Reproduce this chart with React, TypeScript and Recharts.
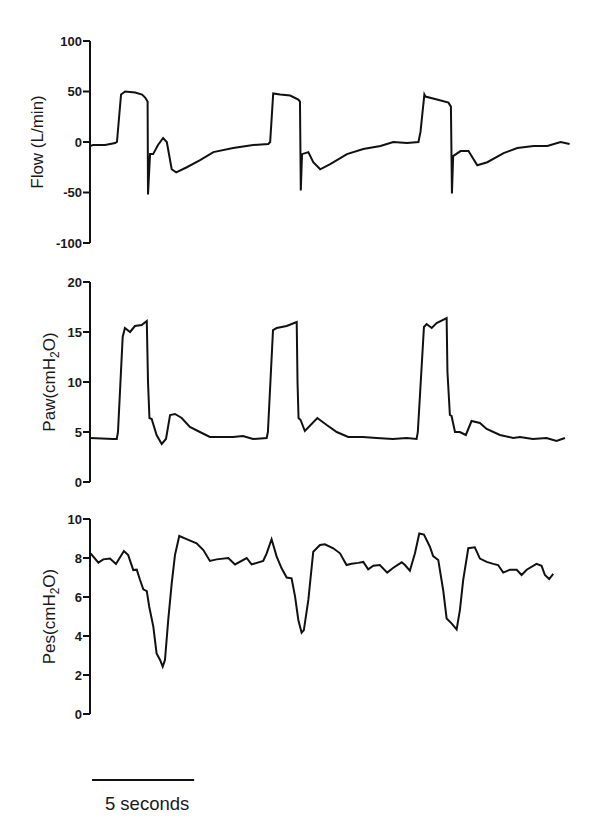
import React from "react";
import { LineChart, Line, XAxis, YAxis, ReferenceLine } from "recharts";

// ---- Data (time in seconds) ----
const flowTime = [0, 0.15, 0.74, 1.23, 1.32, 1.52, 1.72, 2.21, 2.55, 2.7, 2.82, 2.84, 2.94, 3.09, 3.33, 3.58, 3.76, 4.0, 4.22, 4.74, 5.39, 6.04, 7.01, 7.99, 8.73, 8.82, 8.97, 9.31, 9.8, 10.2, 10.28, 10.32, 10.38, 10.69, 10.93, 11.27, 11.76, 12.58, 13.38, 14.22, 14.85, 15.52, 16.08, 16.18, 16.37, 16.42, 16.99, 17.55, 17.67, 17.72, 17.78, 18.14, 18.53, 18.96, 19.45, 20.25, 20.92, 21.72, 22.39, 23.04, 23.48];
const flowValues = [-4, -3, -3, -1, 0, 47, 50, 49, 47, 44, 40, -52, -12, -12, -3, 4, 0, -27, -30, -25, -18, -10, -6, -3, -2, 0, 48, 47, 46, 42, 40, -48, -12, -10, -20, -27, -22, -12, -7, -4, 0, -1, 0, 10, 47, 45, 42, 39, 35, -51, -14, -9, -9, -23, -20, -11, -6, -4, -4, 0, -2];

const pawTime = [0, 1.13, 1.31, 1.37, 1.6, 1.71, 1.96, 2.2, 2.53, 2.78, 2.84, 2.91, 3.02, 3.26, 3.51, 3.72, 3.92, 4.16, 4.49, 4.89, 5.38, 5.87, 7.0, 7.49, 7.98, 8.65, 8.71, 8.96, 9.14, 9.63, 10.12, 10.16, 10.21, 10.31, 10.52, 11.13, 11.59, 12.08, 12.64, 13.36, 14.03, 14.83, 15.5, 15.99, 16.05, 16.35, 16.48, 16.73, 16.97, 17.46, 17.5, 17.62, 17.7, 17.87, 18.11, 18.4, 18.68, 19.09, 19.42, 20.07, 20.72, 21.05, 21.68, 22.35, 22.84, 23.25];
const pawValues = [4.4, 4.3, 4.3, 5.0, 14.5, 15.4, 15.0, 15.6, 15.7, 16.1, 10, 6.4, 6.3, 4.7, 3.8, 4.3, 6.7, 6.8, 6.4, 5.5, 5.0, 4.5, 4.5, 4.6, 4.3, 4.4, 5, 15.2, 15.4, 15.6, 16.0, 10, 6.4, 6.2, 5.1, 6.4, 5.7, 5.0, 4.5, 4.5, 4.4, 4.3, 4.4, 4.3, 5, 15.5, 15.8, 15.4, 15.9, 16.4, 11, 6.7, 6.6, 5.0, 5.0, 4.7, 6.1, 5.9, 5.3, 4.7, 4.4, 4.5, 4.3, 4.4, 4.1, 4.4];

const pesTime = [0.03, 0.41, 0.65, 0.98, 1.27, 1.66, 1.87, 2.12, 2.29, 2.45, 2.61, 2.78, 2.9, 3.1, 3.26, 3.43, 3.56, 3.67, 3.83, 4.0, 4.16, 4.37, 4.73, 5.22, 5.55, 5.87, 6.2, 6.77, 7.1, 7.67, 7.91, 8.48, 8.65, 8.89, 9.14, 9.38, 9.63, 9.87, 10.04, 10.2, 10.36, 10.47, 10.69, 10.93, 11.26, 11.5, 11.91, 12.24, 12.56, 12.81, 13.13, 13.38, 13.62, 13.87, 14.19, 14.55, 14.85, 15.26, 15.42, 15.66, 15.91, 16.12, 16.35, 16.64, 16.8, 17.05, 17.29, 17.46, 17.7, 17.95, 18.11, 18.27, 18.52, 18.84, 19.09, 19.42, 19.74, 19.98, 20.23, 20.56, 20.89, 21.13, 21.38, 21.86, 22.11, 22.27, 22.48, 22.68];
const pesValues = [8.24, 7.76, 7.93, 7.97, 7.69, 8.36, 8.15, 7.38, 7.4, 6.87, 6.39, 6.3, 5.5, 4.48, 3.11, 2.77, 2.43, 2.77, 4.82, 6.7, 8.15, 9.13, 8.97, 8.75, 8.41, 7.85, 7.93, 8.0, 7.67, 8.0, 7.67, 7.85, 8.24, 8.96, 8.07, 7.47, 7.0, 6.96, 6.02, 4.82, 4.17, 4.3, 5.85, 8.32, 8.67, 8.7, 8.5, 8.24, 7.64, 7.7, 7.75, 7.8, 7.42, 7.6, 7.64, 7.25, 7.5, 7.78, 7.64, 7.35, 8.24, 9.26, 9.2, 8.58, 8.1, 7.9, 6.36, 4.9, 4.65, 4.34, 5.33, 6.87, 8.5, 8.55, 7.97, 7.8, 7.7, 7.64, 7.25, 7.4, 7.4, 7.13, 7.4, 7.7, 7.6, 7.13, 6.92, 7.18];

const flowTicks = [-100, -50, 0, 50, 100];
const pawTicks = [0, 5, 10, 15, 20];
const pesTicks = [0, 2, 4, 6, 8, 10];

const timeDomain = [0, 23.5];
const scaleBarStart = 0.1;
const scaleBarSeconds = 5;
const scaleBarLevel = -3.38;
const scaleBarText = "5 seconds";

const toRows = (t: number[], v: number[]) => t.map((x, i) => ({ t: x, v: v[i] }));
const flowData = toRows(flowTime, flowValues);
const pawData = toRows(pawTime, pawValues);
const pesData = toRows(pesTime, pesValues);

const FONT = '"Liberation Sans", Arial, Helvetica, sans-serif';
const INK = "#111";
const W = 575;

function Title({ viewBox, baseX, main, sub, tail }: any) {
  const cy = viewBox.y + viewBox.height / 2;
  return (
    <text
      x={baseX}
      y={cy}
      transform={`rotate(-90, ${baseX}, ${cy})`}
      textAnchor="middle"
      fontFamily={FONT}
      fontSize={17}
      fill="#1a1a1a"
    >
      {main}
      {sub ? (
        <tspan fontSize={12} dy={4}>
          {sub}
        </tspan>
      ) : null}
      {tail ? <tspan dy={sub ? -4 : 0}>{tail}</tspan> : null}
    </text>
  );
}

const tickStyle = { fontFamily: FONT, fontSize: 13, fontWeight: 700, fill: "#1a1a1a" };

function Panel({ data, height, top, margin, domain, ticks, title, children }: any) {
  return (
    <div style={{ position: "absolute", left: 0, top }}>
      <LineChart width={W} height={height} data={data} margin={margin}>
        <XAxis dataKey="t" type="number" domain={timeDomain} hide allowDataOverflow />
        <YAxis
          type="number"
          domain={domain}
          ticks={ticks}
          interval={0}
          width={60}
          allowDataOverflow
          axisLine={{ stroke: INK, strokeWidth: 2 }}
          tickLine={{ stroke: INK, strokeWidth: 2 }}
          tickSize={7}
          tickMargin={1}
          tick={tickStyle}
          label={{ content: (p: any) => <Title viewBox={p.viewBox} {...title} /> }}
        />
        <Line
          type="linear"
          dataKey="v"
          stroke={INK}
          strokeWidth={2}
          dot={false}
          isAnimationActive={false}
        />
        {children}
      </LineChart>
    </div>
  );
}

export default function App() {
  return (
    <div style={{ position: "relative", width: W, height: 824, background: "#fff" }}>
      <Panel
        data={flowData}
        top={0}
        height={245}
        margin={{ top: 33, right: 13, bottom: 10, left: 22 }}
        domain={[-100, 100]}
        ticks={flowTicks}
        title={{ baseX: 35, main: "Flow (L/min)" }}
      />
      <Panel
        data={pawData}
        top={250}
        height={234}
        margin={{ top: 24, right: 13, bottom: 10, left: 22 }}
        domain={[0, 20]}
        ticks={pawTicks}
        title={{ baseX: 47, main: "Paw(cmH", sub: "2", tail: "O)" }}
      />
      <Panel
        data={pesData}
        top={490}
        height={330}
        margin={{ top: 21, right: 13, bottom: 114, left: 22 }}
        domain={[0, 10]}
        ticks={pesTicks}
        title={{ baseX: 47, main: "Pes(cmH", sub: "2", tail: "O)" }}
      >
        <ReferenceLine
          segment={[
            { x: scaleBarStart, y: scaleBarLevel },
            { x: scaleBarStart + scaleBarSeconds, y: scaleBarLevel },
          ]}
          stroke={INK}
          strokeWidth={2}
          ifOverflow="visible"
          label={{
            content: (p: any) => {
              const vb = p.viewBox || {};
              const cx = vb.width !== undefined ? vb.x + vb.width / 2 : ((vb.x1 ?? 0) + (vb.x2 ?? 0)) / 2;
              const y = vb.y !== undefined ? vb.y : vb.y1;
              return (
                <text x={cx + 4} y={y + 30} textAnchor="middle" fontFamily={FONT} fontSize={18.5} fill="#1a1a1a">
                  {scaleBarText}
                </text>
              );
            },
          }}
        />
      </Panel>
    </div>
  );
}
